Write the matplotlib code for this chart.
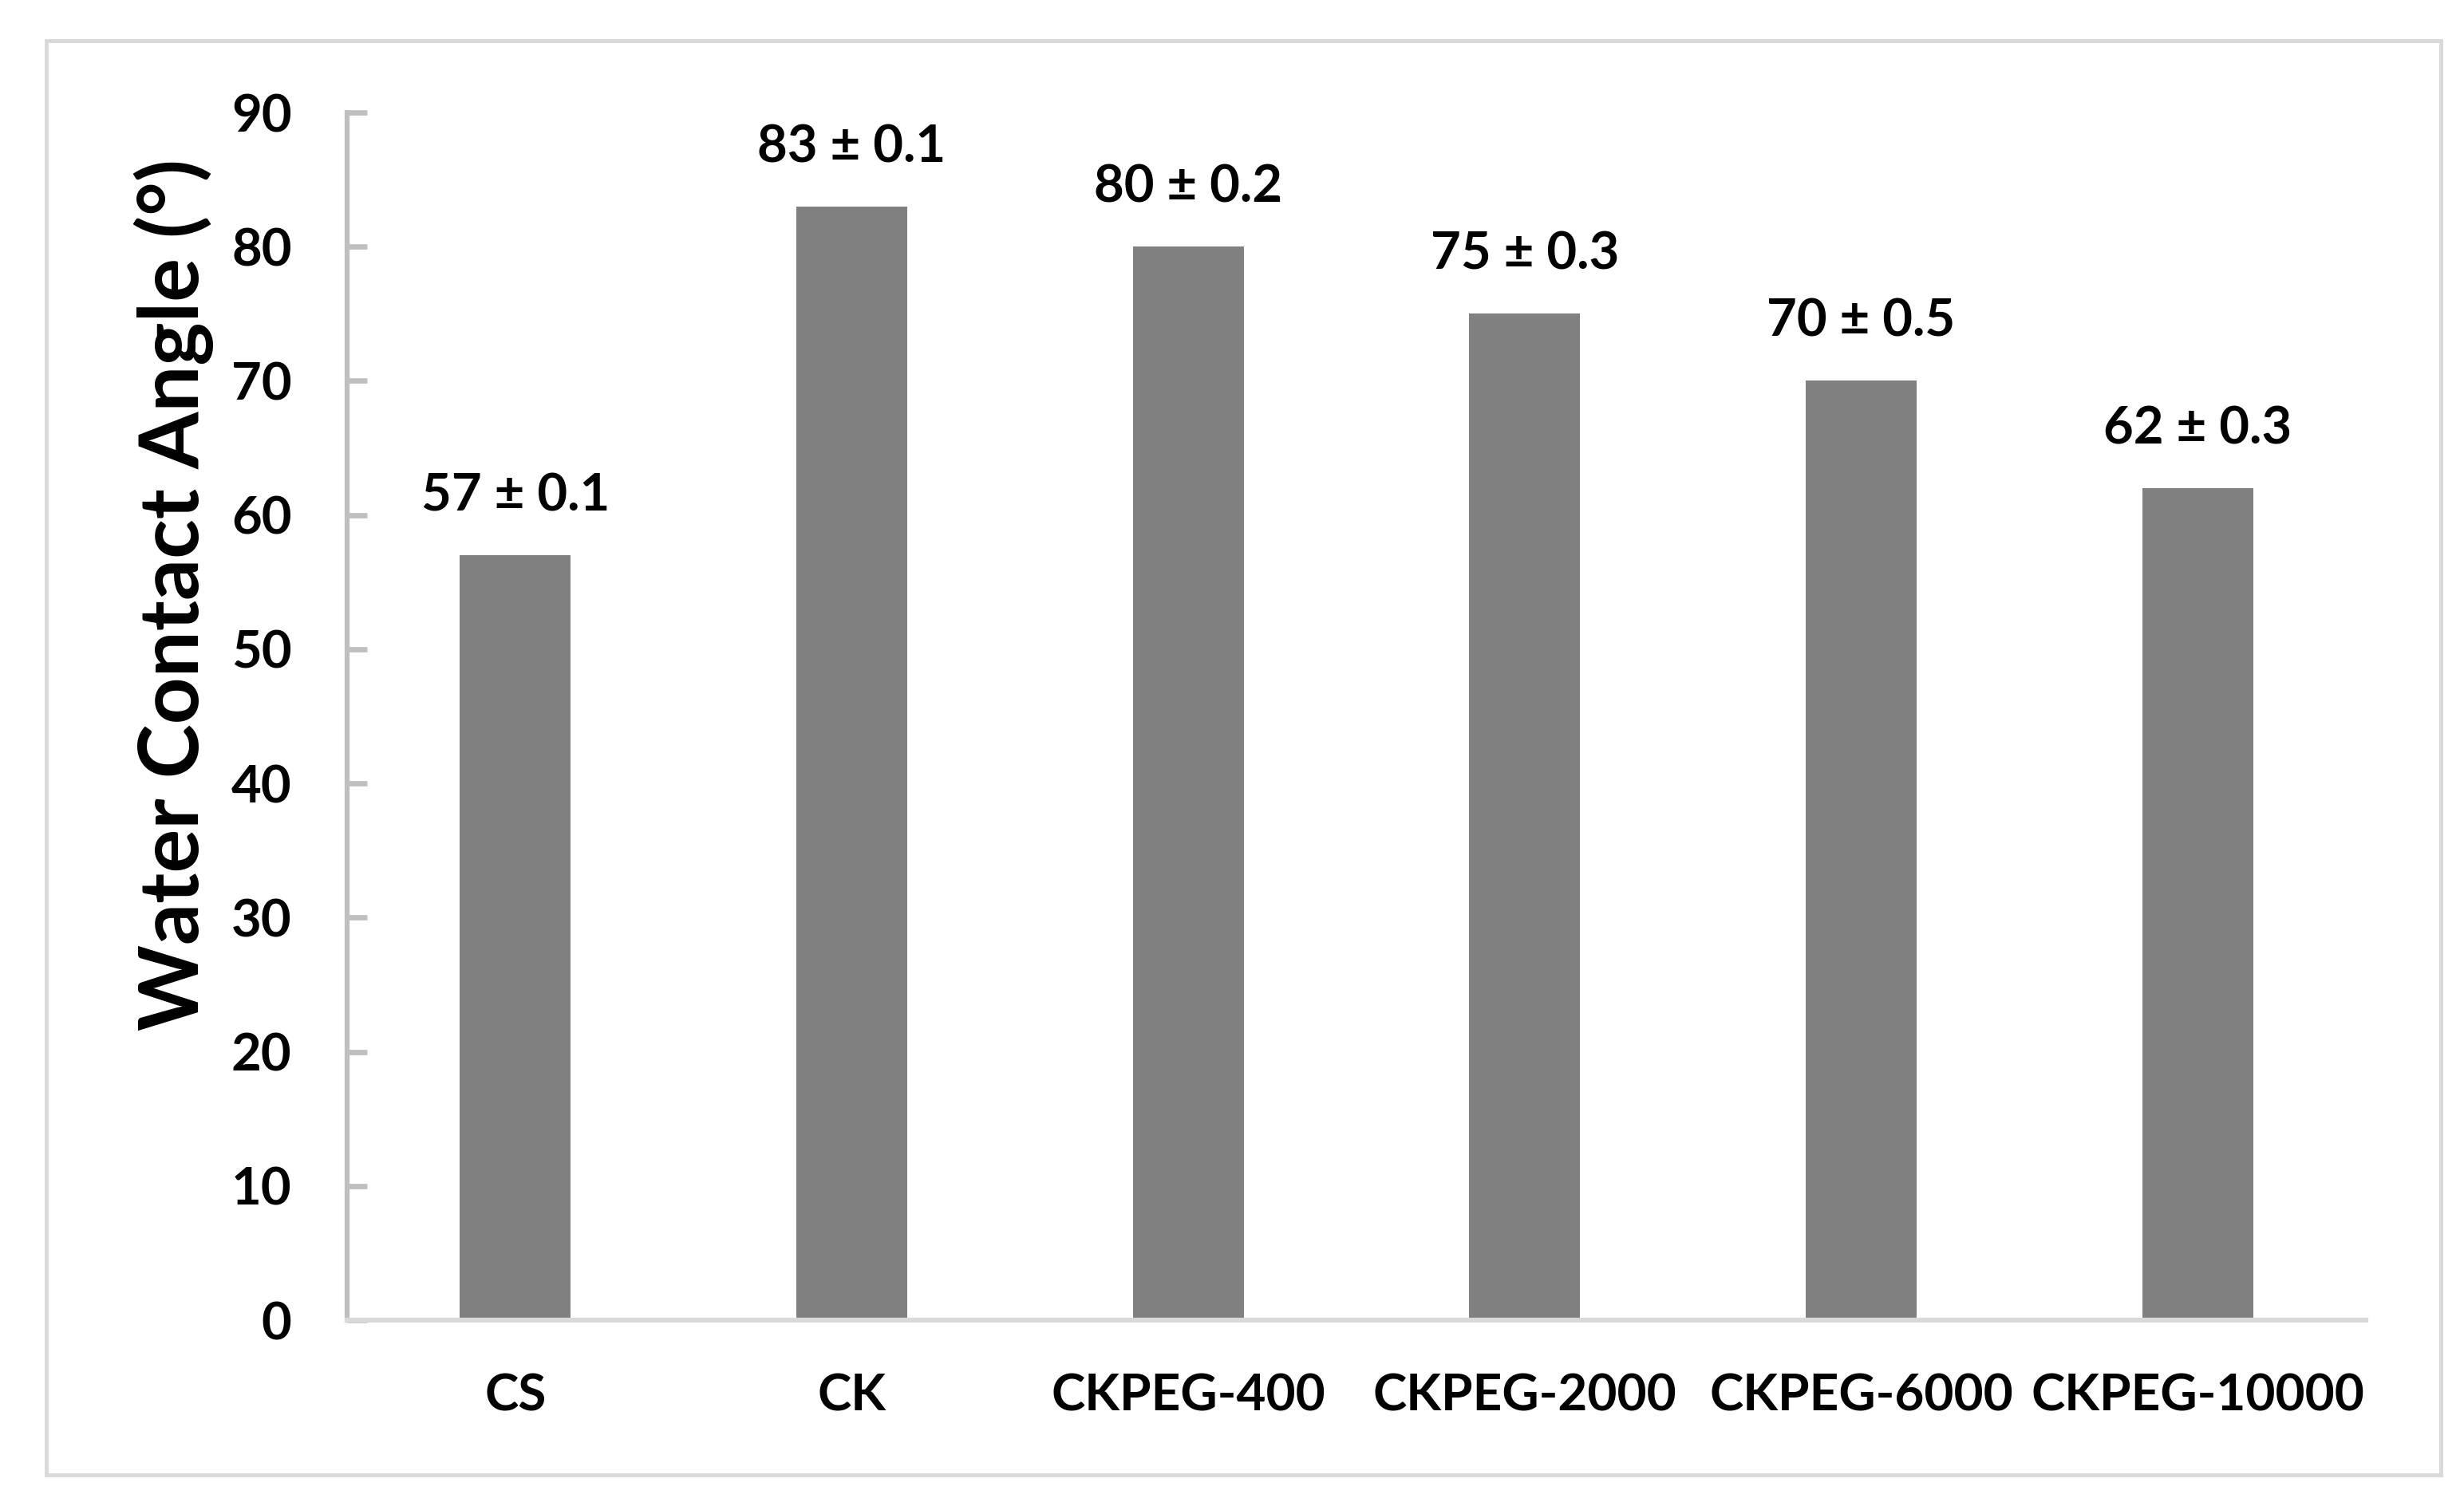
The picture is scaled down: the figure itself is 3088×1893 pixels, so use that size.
import matplotlib
matplotlib.use("Agg")
import matplotlib.pyplot as plt
from matplotlib.patches import Rectangle

categories = ["CS", "CK", "CKPEG-400", "CKPEG-2000", "CKPEG-6000", "CKPEG-10000"]
angles = [57, 83, 80, 75, 70, 62]
errors = [0.1, 0.1, 0.2, 0.3, 0.5, 0.3]
yticks = [0, 10, 20, 30, 40, 50, 60, 70, 80, 90]

W, H = 3088, 1893
DPI = 100
plt.rcParams['font.family'] = ['Lato', 'DejaVu Sans']
plt.rcParams['font.weight'] = 'bold'

fig = plt.figure(figsize=(W / DPI, H / DPI), dpi=DPI)
fig.patch.set_facecolor('white')

# outer border
fig.patches.append(Rectangle((58 / W, 1 - 1849 / H), (3059 - 58) / W, (1849 - 51) / H,
                             transform=fig.transFigure, fill=False,
                             edgecolor='#d9d9d9', linewidth=3.5, zorder=0))

ax = fig.add_axes([435 / W, 1 - 1655 / H, (2965 - 435) / W, (1655 - 141) / H])
x = list(range(len(categories)))
ax.bar(x, angles, width=0.33, color='#808080', zorder=2)
ax.set_xlim(-0.5, len(categories) - 0.5)
ax.set_ylim(0, 90)

for xi, v, e in zip(x, angles, errors):
    ax.annotate(f"{v} ± {e}", (xi, v), xytext=(0, 40), textcoords='offset points',
                ha='center', va='baseline', fontsize=47, fontweight='bold', color='black')

ax.set_xticks(x)
ax.set_xticklabels(categories, fontsize=46, fontweight='bold')
ax.tick_params(axis='x', length=0, pad=48)
ax.set_yticks(yticks)
ax.set_yticklabels([str(t) for t in yticks], fontsize=47, fontweight='bold')
ax.tick_params(axis='y', direction='in', length=18, width=4.8, color='#bfbfbf', pad=50)

for s in ['top', 'right']:
    ax.spines[s].set_visible(False)
ax.spines['left'].set_color('#bfbfbf')
ax.spines['left'].set_linewidth(4.5)
ax.spines['bottom'].set_color('#d9d9d9')
ax.spines['bottom'].set_linewidth(4.5)
ax.spines['bottom'].set_zorder(3)

ax.set_ylabel("Water Contact Angle (°)", fontsize=74, fontweight='bold')
ax.yaxis.set_label_coords(268 / W, 1 - 745 / H, transform=fig.transFigure)

fig.savefig("out.png", dpi=DPI, facecolor='white')
